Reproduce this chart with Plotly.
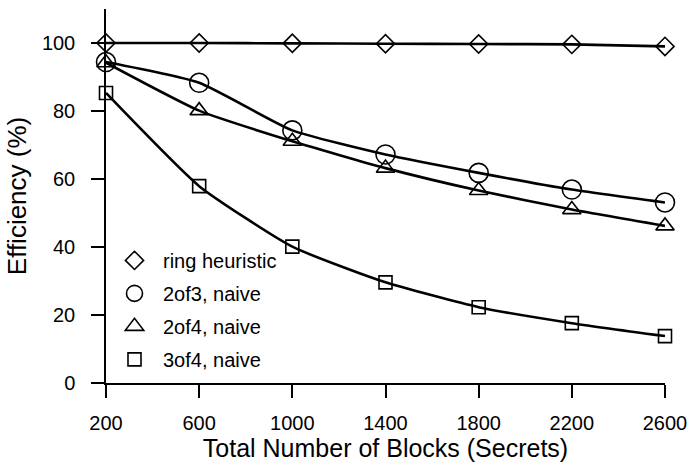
import plotly.graph_objects as go

# Total number of blocks (secrets)
blocks = [200, 600, 1000, 1400, 1800, 2200, 2600]

# Efficiency (%) for each scheme
ring_heuristic = [100.0, 100.0, 99.9, 99.8, 99.7, 99.6, 99.0]
two_of_three_naive = [94.4, 88.3, 74.3, 67.2, 61.8, 56.9, 53.1]
two_of_four_naive = [94.2, 80.1, 71.1, 63.2, 56.6, 51.0, 46.2]
three_of_four_naive = [85.3, 57.9, 40.1, 29.6, 22.3, 17.6, 13.8]

series_names = ["ring heuristic", "2of3, naive", "2of4, naive", "3of4, naive"]
series_values = [ring_heuristic, two_of_three_naive, two_of_four_naive, three_of_four_naive]
symbols = ["diamond-open", "circle-open", "triangle-up-open", "square-open"]
sizes = [14, 19, 16, 13]

x_ticks = [200, 600, 1000, 1400, 1800, 2200, 2600]
y_ticks = [0, 20, 40, 60, 80, 100]

fig = go.Figure()

for name, vals, sym, sz in zip(series_names, series_values, symbols, sizes):
    # curve with markers
    fig.add_trace(go.Scatter(
        x=blocks, y=vals, mode="lines+markers",
        line=dict(color="black", width=2.6, shape="spline", smoothing=0.5),
        marker=dict(symbol=sym, size=sz, color="black", line=dict(width=1.6, color="black")),
        cliponaxis=False, showlegend=False,
    ))
    # legend entry: marker only
    fig.add_trace(go.Scatter(
        x=[None], y=[None], mode="markers", name=name,
        marker=dict(symbol=sym, size=sz, color="black", line=dict(width=1.6, color="black")),
        legendgroup=name,
    ))

font_family = "Liberation Sans, Arial, sans-serif"

fig.update_layout(
    width=696, height=466,
    margin=dict(l=106, r=26, t=9, b=82),
    paper_bgcolor="white", plot_bgcolor="white",
    font=dict(family=font_family, size=20, color="black"),
    legend=dict(
        x=0.0, y=0.38, xanchor="left", yanchor="top",
        bgcolor="rgba(0,0,0,0)", font=dict(size=20),
        tracegroupgap=4, itemwidth=47,
    ),
    xaxis=dict(
        range=[200, 2600], tickvals=x_ticks, ticktext=[str(v) for v in x_ticks],
        showgrid=False, zeroline=False, showline=True, linecolor="black", linewidth=1.5,
        ticks="outside", ticklen=13, tickwidth=1.5, tickcolor="black",
        ticklabelstandoff=8, tickfont=dict(size=20),
        title=dict(text="Total Number of Blocks (Secrets)", font=dict(size=25), standoff=6),
    ),
    yaxis=dict(
        range=[0, 110], tickvals=y_ticks, ticktext=[str(v) for v in y_ticks],
        showgrid=False, zeroline=False, showline=True, linecolor="black", linewidth=1.5,
        ticks="outside", ticklen=13, tickwidth=1.5, tickcolor="black",
        ticklabelstandoff=12, tickfont=dict(size=20),
        title=dict(text="Efficiency (%)", font=dict(size=26), standoff=8),
    ),
)

fig.write_html("out.html")
